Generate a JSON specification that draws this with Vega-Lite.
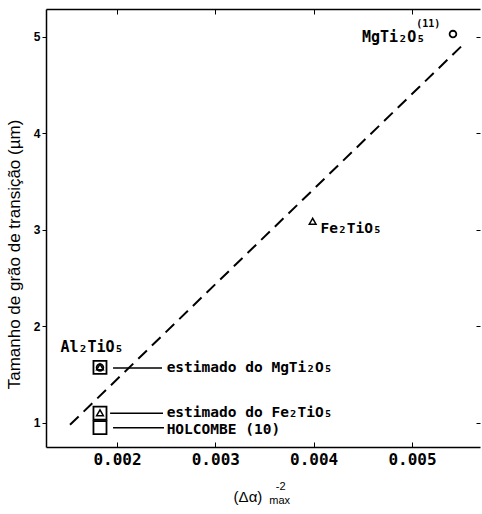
{
  "$schema": "https://vega.github.io/schema/vega-lite/v6.json",
  "width": 434,
  "height": 438,
  "autosize": {"type": "none"},
  "padding": {"left": 46, "top": 9, "right": 2, "bottom": 67},
  "background": "white",
  "config": {"view": {"stroke": null}, "font": "Liberation Sans"},
  "datasets": {
    "points": [
      {"x": 0.001827, "y": 1.575, "marker": "square"},
      {"x": 0.001827, "y": 1.575, "marker": "circle_in"},
      {"x": 0.001827, "y": 1.58, "marker": "triangle_in"},
      {"x": 0.001827, "y": 1.1, "marker": "square"},
      {"x": 0.001827, "y": 1.105, "marker": "triangle_in"},
      {"x": 0.001827, "y": 0.95, "marker": "square"},
      {"x": 0.00399, "y": 3.09, "marker": "triangle"},
      {"x": 0.005417, "y": 5.03, "marker": "circle"}
    ],
    "fit": [
      {"x": 0.001522, "y": 0.98},
      {"x": 0.005519, "y": 4.92}
    ],
    "leaders": [
      {"x": 0.00196, "x2": 0.002458, "y": 1.57},
      {"x": 0.00193, "x2": 0.002468, "y": 1.1},
      {"x": 0.00196, "x2": 0.002478, "y": 0.95}
    ],
    "labels": [
      {"x": 0.002505, "y": 1.57, "text": "estimado  do  MgTi₂O₅", "align": "left", "role": "main"},
      {"x": 0.002505, "y": 1.105, "text": "estimado  do  Fe₂TiO₅", "align": "left", "role": "main"},
      {"x": 0.002505, "y": 0.925, "text": "HOLCOMBE (10)", "align": "left", "role": "main"},
      {"x": 0.001746, "y": 1.79, "text": "Al₂TiO₅", "align": "center", "role": "main"},
      {"x": 0.00407, "y": 3.01, "text": "Fe₂TiO₅", "align": "left", "role": "main"},
      {"x": 0.005135, "y": 5.0, "text": "MgTi₂O₅", "align": "right", "role": "main"},
      {"x": 0.005165, "y": 5.13, "text": "(11)", "align": "center", "role": "note"}
    ]
  },
  "layer": [
    {
      "data": {"name": "fit"},
      "mark": {"type": "line", "color": "black", "strokeWidth": 2, "strokeDash": [12, 7]},
      "encoding": {
        "x": {
          "field": "x", "type": "quantitative",
          "scale": {"domain": [0.001278, 0.005692], "nice": false, "zero": false},
          "axis": {
            "orient": "bottom", "values": [0.002, 0.003, 0.004, 0.005], "format": ".3f",
            "title": null, "grid": false, "tickSize": -5, "tickColor": "black",
            "domainColor": "black", "domainWidth": 1.5, "labelFont": "DejaVu Sans Mono",
            "labelFontWeight": "bold", "labelFontSize": 16, "labelColor": "black", "labelPadding": 9
          }
        },
        "y": {
          "field": "y", "type": "quantitative",
          "scale": {"domain": [0.75, 5.29], "nice": false, "zero": false},
          "axis": {
            "orient": "left", "values": [1, 2, 3, 4, 5], "grid": false,
            "tickSize": 4, "tickColor": "black", "domainColor": "black", "domainWidth": 1.5,
            "labelFontSize": 12, "labelFontWeight": "bold", "labelColor": "black", "labelPadding": 2,
            "title": "Tamanho de grão de transição (µm)", "titleFontSize": 17,
            "titleFontWeight": "normal", "titleColor": "black", "titlePadding": 10, "titleY": 245
          }
        }
      }
    },
    {
      "data": {"name": "fit"},
      "mark": {"type": "line", "opacity": 0},
      "encoding": {
        "x": {
          "field": "x", "type": "quantitative",
          "axis": {"orient": "top", "values": [0.002, 0.003, 0.004, 0.005], "labels": false, "title": null, "grid": false, "tickSize": -5, "tickColor": "black", "domainColor": "black", "domainWidth": 1.5}
        },
        "y": {
          "field": "y", "type": "quantitative",
          "axis": {"orient": "right", "values": [1, 2, 3, 4, 5], "labels": false, "title": null, "grid": false, "tickSize": -4, "tickColor": "black", "domain": false}
        }
      }
    },
    {
      "data": {"name": "leaders"},
      "mark": {"type": "rule", "color": "black", "strokeWidth": 1.5},
      "encoding": {
        "x": {"field": "x", "type": "quantitative", "axis": null},
        "x2": {"field": "x2"},
        "y": {"field": "y", "type": "quantitative", "axis": null}
      }
    },
    {
      "data": {"name": "points"},
      "transform": [{"filter": "datum.marker == 'square'"}],
      "mark": {"type": "point", "shape": "square", "size": 170, "filled": true, "fill": "white", "stroke": "black", "strokeWidth": 1.8, "opacity": 1},
      "encoding": {
        "x": {"field": "x", "type": "quantitative", "axis": null},
        "y": {"field": "y", "type": "quantitative", "axis": null}
      }
    },
    {
      "data": {"name": "points"},
      "transform": [{"filter": "datum.marker == 'circle_in' || datum.marker == 'circle'"}],
      "mark": {"type": "point", "shape": "circle", "size": 45, "filled": false, "stroke": "black", "strokeWidth": 1.8, "opacity": 1},
      "encoding": {
        "x": {"field": "x", "type": "quantitative", "axis": null},
        "y": {"field": "y", "type": "quantitative", "axis": null}
      }
    },
    {
      "data": {"name": "points"},
      "transform": [{"filter": "datum.marker == 'triangle_in' || datum.marker == 'triangle'"}],
      "mark": {"type": "point", "shape": "triangle-up", "size": 45, "filled": false, "stroke": "black", "strokeWidth": 1.5, "opacity": 1},
      "encoding": {
        "x": {"field": "x", "type": "quantitative", "axis": null},
        "y": {"field": "y", "type": "quantitative", "axis": null}
      }
    },
    {
      "data": {"name": "labels"},
      "transform": [{"filter": "datum.align == 'left'"}],
      "mark": {"type": "text", "align": "left", "baseline": "middle", "font": "DejaVu Sans Mono", "fontWeight": "bold", "fontSize": 14.5, "color": "black"},
      "encoding": {
        "x": {"field": "x", "type": "quantitative", "axis": null},
        "y": {"field": "y", "type": "quantitative", "axis": null},
        "text": {"field": "text"}
      }
    },
    {
      "data": {"name": "labels"},
      "transform": [{"filter": "datum.align == 'center'"}],
      "mark": {"type": "text", "align": "center", "baseline": "middle", "font": "DejaVu Sans Mono", "fontWeight": "bold", "color": "black"},
      "encoding": {
        "x": {"field": "x", "type": "quantitative", "axis": null},
        "y": {"field": "y", "type": "quantitative", "axis": null},
        "text": {"field": "text"},
        "size": {"field": "role", "type": "nominal", "scale": {"domain": ["main", "note"], "range": [15, 10]}, "legend": null}
      }
    },
    {
      "data": {"name": "labels"},
      "transform": [{"filter": "datum.align == 'right'"}],
      "mark": {"type": "text", "align": "right", "baseline": "middle", "font": "DejaVu Sans Mono", "fontWeight": "bold", "fontSize": 15, "color": "black"},
      "encoding": {
        "x": {"field": "x", "type": "quantitative", "axis": null},
        "y": {"field": "y", "type": "quantitative", "axis": null},
        "text": {"field": "text"}
      }
    },
    {
      "data": {"values": [
        {"x": 0.003332, "y": 0.233, "text": "(Δα)", "role": "main"},
        {"x": 0.003665, "y": 0.337, "text": "-2", "role": "note"},
        {"x": 0.003655, "y": 0.192, "text": "max", "role": "note"}
      ]},
      "mark": {"type": "text", "align": "center", "baseline": "middle", "clip": false, "font": "Liberation Sans", "color": "black"},
      "encoding": {
        "x": {"field": "x", "type": "quantitative", "axis": null},
        "y": {"field": "y", "type": "quantitative", "axis": null},
        "text": {"field": "text"},
        "size": {"field": "role", "type": "nominal", "scale": {"domain": ["main", "note"], "range": [15, 11]}, "legend": null}
      }
    }
  ],
  "resolve": {"axis": {"x": "independent", "y": "independent"}, "scale": {"size": "independent"}}
}
